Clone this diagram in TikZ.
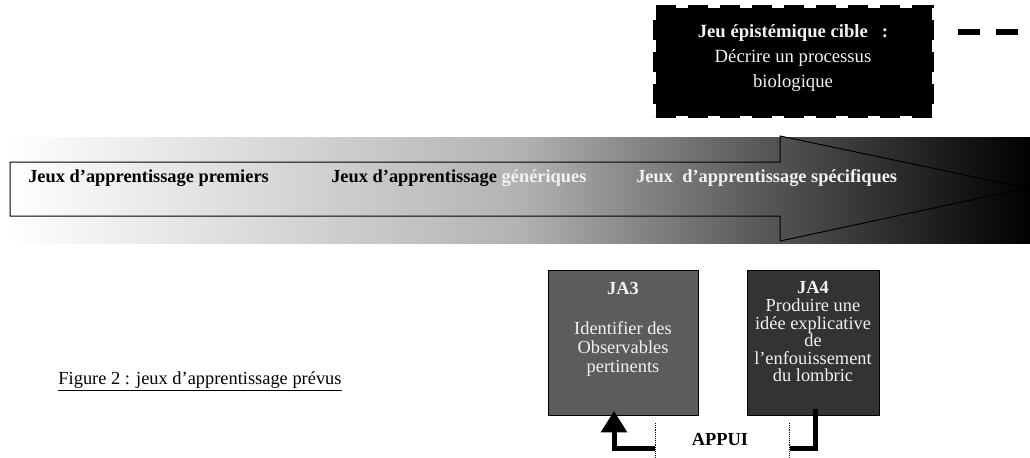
\documentclass[tikz,border=0pt]{standalone}
\usepackage{fontspec}
\setmainfont{Liberation Serif}
\usepackage{xcolor}
\usetikzlibrary{arrows.meta,positioning}
\definecolor{jathree}{HTML}{5C5C5C}
\definecolor{jafour}{HTML}{333333}
\definecolor{paletxt}{HTML}{F2F2F2}
\pgfdeclarehorizontalshading{bandshade}{100bp}{color(0bp)=(white); color(25bp)=(white); color(50bp)=(black!30); color(62bp)=(black!66); color(75bp)=(black); color(100bp)=(black)}
\tikzset{
  txt/.style={inner sep=0.75pt, font=\fontsize{13.8}{16}\selectfont},
  jabox/.style={draw=black, line width=0.75pt, minimum height=108.75pt, inner sep=0pt},
  appui/.style={line width=3.75pt, miter limit=10},
}

\begin{document}
\begin{tikzpicture}[x=0.75pt,y=0.75pt,yscale=-1,xscale=1]
        \useasboundingbox (0,0) rectangle (1030,457);

        %Shape: Gradient band
        \shade [shading=bandshade] (8,137) rectangle (1030,243);
        %Shape: Big arrow
        \draw [line width=0.75pt] (10,162) -- (780,162) -- (780,136) -- (1027,188) -- (780,241) -- (780,216) -- (10,216) -- cycle ;

        % Text Node
        \node [txt, anchor=west, font=\fontsize{13.8}{16}\selectfont\bfseries] (premiers) at (27,178) {Jeux d’apprentissage premiers};
        \node [txt, anchor=west, font=\fontsize{13.8}{16}\selectfont\bfseries] (generiques) at (330,178) {Jeux d’apprentissage \textcolor{paletxt}{génériques}};
        \node [txt, anchor=west, text=paletxt, font=\fontsize{13.8}{16}\selectfont\bfseries] (specifiques) at (635,178) {Jeux\ \ d’apprentissage spécifiques};

        %Shape: Target box
        \node [draw=black, fill=black, line width=4pt, dash pattern=on 15pt off 9pt, minimum width=207pt, minimum height=81pt, inner sep=0pt] (cible) at (793.5,61.5) {};
        \node [txt, text=paletxt, align=center, font=\fontsize{14}{18.75}\selectfont] (ciblet) at (793,58) {\textbf{Jeu épistémique cible\ \ \ :}\\Décrire un processus\\biologique};
        \coordinate (dashA) at (958,32);
        \coordinate (dashB) at (1030,32);
        \draw [line width=4.5pt, dash pattern=on 16.5pt off 12pt] (dashA) -- (dashB);

        %Shape: JA boxes
        \node [jabox, fill=jathree, minimum width=112.5pt] (ja3) at (623,342.5) {};
        \node [jabox, fill=jafour, minimum width=99pt] (ja4) at (813,342.5) {};
        \node [txt, text=paletxt, font=\fontsize{13.8}{16}\selectfont\bfseries] (ja3title) at (623,288) {JA3};
        \node [txt, text=paletxt, align=center, font=\fontsize{13.8}{14.25}\selectfont] (ja3body) at (623,349) {Identifier des\\Observables\\pertinents};
        \node [txt, text=paletxt, align=center, font=\fontsize{13.8}{13.2}\selectfont] (ja4body) at (813,332) {\textbf{JA4}\\Produire une\\idée explicative\\de\\l’enfouissement\\du lombric};

        %Appui arrows
        \coordinate (dotA) at (655,423);
        \coordinate (dotB) at (655,457);
        \coordinate (dotC) at (789,423);
        \coordinate (dotD) at (789,457);
        \draw [densely dotted, line width=0.4pt] (dotA) -- (dotB);
        \draw [densely dotted, line width=0.4pt] (dotC) -- (dotD);
        \coordinate (startL) at (655,448);
        \coordinate (ja3in) at (614,411);
        \draw [appui, -{Triangle[length=16pt,width=19pt]}] (startL) -| (ja3in);
        \coordinate (ja4out) at (815,409);
        \coordinate (endR) at (790,448);
        \draw [appui] (ja4out) |- (endR);
        \node [txt, font=\fontsize{13.8}{16}\selectfont\bfseries] (appuitxt) at (720,440) {APPUI};

        % Text Node
        \node [txt] (caption) at (200,381) {\underline{Figure 2 : jeux d’apprentissage prévus}};

\end{tikzpicture}
\end{document}
